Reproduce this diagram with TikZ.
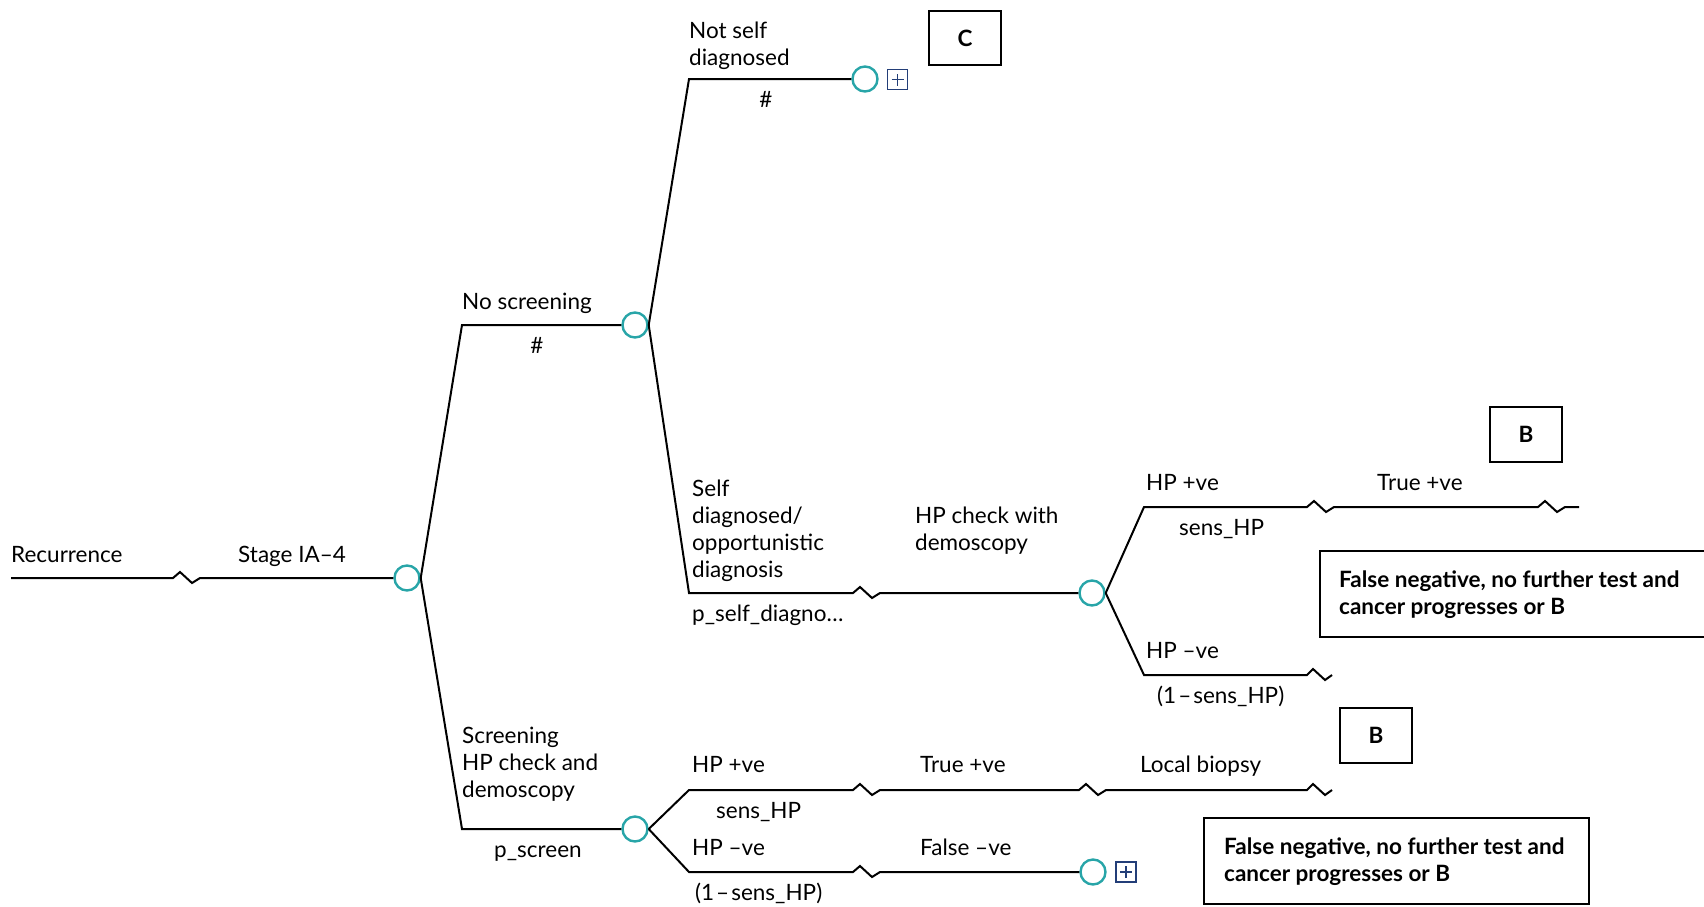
\documentclass[tikz,border=0pt]{standalone}
\usepackage{fontspec}
\setmainfont{Lato}
\definecolor{chtl}{RGB}{40,165,168}
\definecolor{navyb}{RGB}{35,62,120}
\begin{document}
\begin{tikzpicture}[x=1pt,y=-1pt,
 br/.style={draw=black,line width=2pt,line join=miter},
 chance/.style={circle,draw=chtl,line width=2.4pt,minimum size=25pt,inner sep=0pt},
 plusbox/.style={draw=navyb,line width=1.6pt,minimum size=20pt,inner sep=0pt,
   path picture={\draw[navyb,line width=1.6pt]
     ([xshift=-6pt]path picture bounding box.center) -- ([xshift=6pt]path picture bounding box.center)
     ([yshift=-6pt]path picture bounding box.center) -- ([yshift=6pt]path picture bounding box.center);}},
 lbl/.style={anchor=base west,inner sep=0pt,font=\fontsize{22.5}{27}\selectfont,align=left},
 clbl/.style={anchor=base,inner sep=0pt,font=\fontsize{22.5}{27}\selectfont},
 term/.style={draw,line width=1.6pt,inner sep=0pt,font=\bfseries\fontsize{22.5}{27}\selectfont},
 btxt/.style={anchor=base west,inner sep=0pt,font=\bfseries\fontsize{22.5}{27}\selectfont},
 zig/.style={insert path={-- ++(7,-6) -- ++(12,11) -- ++(8,-5)}},
 zigend/.style={insert path={-- ++(6,-6) -- ++(12,11) -- ++(7,-5)}},
]
\useasboundingbox (0,0) rectangle (1704,906);

% chance nodes
\node[chance] (c1) at (407,578) {};
\node[chance] (c2) at (635,325) {};
\node[chance] (ct) at (865,79) {};
\node[chance] (c3) at (1092,593) {};
\node[chance] (c4) at (635,829) {};
\node[chance] (c5) at (1093,872) {};
\node[plusbox] (pt) at (897.5,79.5) {};
\node[plusbox] (pb) at (1126,872) {};

% terminal boxes
\node[term,minimum width=72pt,minimum height=54pt] (C) at (965,38) {C};
\node[term,minimum width=72pt,minimum height=55pt] (B1) at (1526,434.5) {B};
\node[term,minimum width=72pt,minimum height=55pt] (B2) at (1376,735.5) {B};
\node[draw,line width=1.6pt,minimum width=395pt,minimum height=86pt,anchor=north west,inner sep=0pt] (F1) at (1319,550) {};
\node[draw,line width=1.6pt,minimum width=385pt,minimum height=86pt,anchor=north west,inner sep=0pt] (F2) at (1203,817) {};
\node[btxt] (f1a) at (1339,587) {False negative, no further test and};
\node[btxt] (f1b) at (1339,614) {cancer progresses or B};
\node[btxt] (f2a) at (1224,854) {False negative, no further test and};
\node[btxt] (f2b) at (1224,881) {cancer progresses or B};

% coordinates
\coordinate (r0) at (11,578);
\coordinate (e1) at (1579,507);
\coordinate (e2) at (1307,675);
\coordinate (e3) at (1307,790);

% branches
\draw[br] (r0) -- (173,578) [zig] -- (c1);
\draw[br] (c1.east) -- (462,325) -- (c2);
\draw[br] (c2.east) -- (689,79) -- (ct);
\draw[br] (c2.east) -- (689,593) -- (853,593) [zig] -- (c3);
\draw[br] (c3.east) -- (1144,507) -- (1307,507) [zig] -- (1538,507) [zig] -- (e1);
\draw[br] (c3.east) -- (1144,675) -- (e2) [zigend];
\draw[br] (c1.east) -- (462,829) -- (c4);
\draw[br] (c4.east) -- (689,790) -- (853,790) [zig] -- (1079,790) [zig] -- (e3) [zigend];
\draw[br] (c4.east) -- (689,872) -- (853,872) [zig] -- (c5);

% labels
\node[lbl] (l1) at (11,562) {Recurrence};
\node[lbl] (l2) at (238,562) {Stage IA–4};
\node[lbl] (l3) at (462,309) {No screening};
\node[clbl] (l4) at (537,353) {\#};
\node[lbl] (l5) at (689,65) {Not self\\diagnosed};
\node[clbl] (l6) at (766,107) {\#};
\node[lbl] (l7) at (692,577) {Self\\diagnosed/\\opportunistic\\diagnosis};
\node[lbl] (l8) at (692,621) {p\_self\_diagno…};
\node[lbl] (l9) at (915,550) {HP check with\\demoscopy};
\node[lbl] (l10) at (1146,490) {HP +ve};
\node[lbl] (l11) at (1179,535) {sens\_HP};
\node[lbl] (l12) at (1377,490) {True +ve};
\node[lbl] (l13) at (1146,658) {HP –ve};
\node[lbl] (l14) at (1157,703) {(1\kern2pt–\kern2pt sens\_HP)};
\node[lbl] (l15) at (462,797) {Screening\\HP check and\\demoscopy};
\node[lbl] (l16) at (494,857) {p\_screen};
\node[lbl] (l17) at (692,772) {HP +ve};
\node[lbl] (l18) at (716,818) {sens\_HP};
\node[lbl] (l19) at (920,772) {True +ve};
\node[lbl] (l20) at (1140,772) {Local biopsy};
\node[lbl] (l21) at (692,855) {HP –ve};
\node[lbl] (l22) at (920,855) {False –ve};
\node[lbl] (l23) at (695,900) {(1\kern2pt–\kern2pt sens\_HP)};
\end{tikzpicture}
\end{document}
